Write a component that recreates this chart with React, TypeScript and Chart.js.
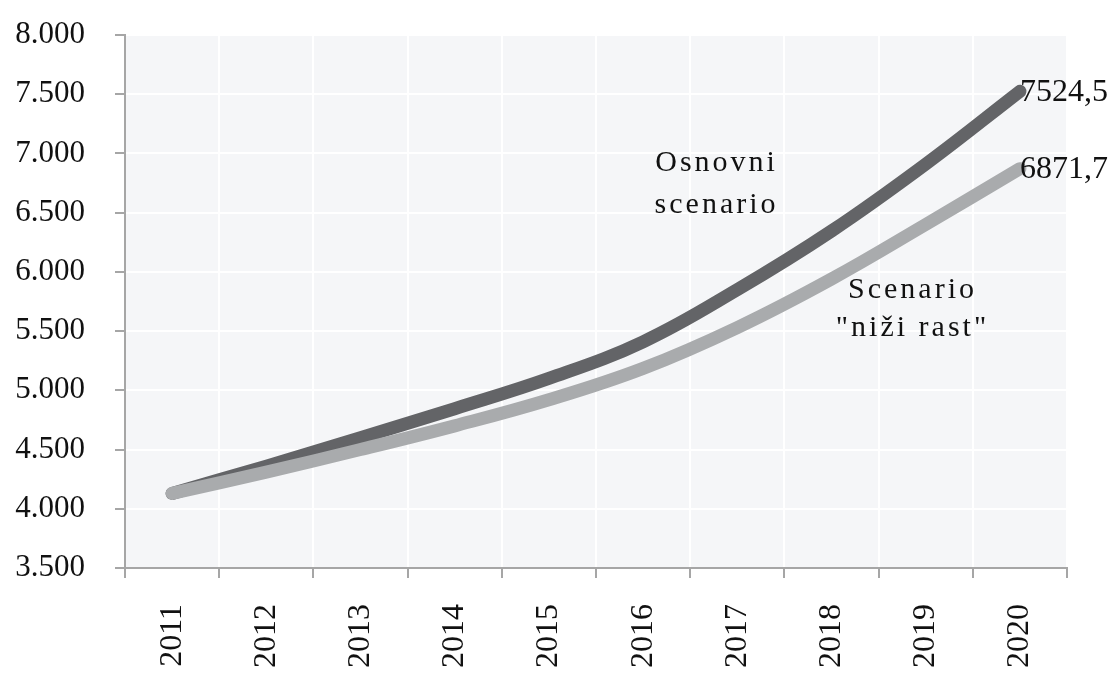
import React, { useEffect, useRef } from "react";
import { Chart, registerables } from "chart.js";

Chart.register(...registerables);

const years = ["2011", "2012", "2013", "2014", "2015", "2016", "2017", "2018", "2019", "2020"];
const osnovni = [4130, 4360, 4600, 4845, 5100, 5410, 5850, 6345, 6910, 7524.5];
const niziRast = [4130, 4310, 4500, 4700, 4920, 5185, 5530, 5940, 6400, 6871.7];
const endLabels = ["7524,5", "6871,7"];
const yMin = 3500;
const yMax = 8000;
const yStep = 500;
// annotation anchors in data coordinates: [categoryIndex, value, text]
const annotations: [number, number, string][] = [
  [5.78, 6920, "Osnovni"],
  [5.78, 6565, "scenario"],
  [7.86, 5850, "Scenario"],
  [7.86, 5525, "\"niži rast\""],
];

const TICK_FONT = "'Liberation Serif', serif";
const TEXT_FONT = "'Liberation Serif', serif";

const fmt = (v: number) => {
  const s = Math.round(v).toString();
  return s.replace(/\B(?=(\d{3})+(?!\d))/g, ".");
};

const plotBg = {
  id: "plotBg",
  beforeDraw(chart: any) {
    const { ctx, chartArea } = chart;
    ctx.save();
    ctx.fillStyle = "#f5f6f8";
    ctx.fillRect(chartArea.left, chartArea.top, chartArea.right - chartArea.left, chartArea.bottom - chartArea.top);
    ctx.restore();
  },
};

const textPlugin = {
  id: "texts",
  afterDatasetsDraw(chart: any) {
    const { ctx, scales } = chart;
    ctx.save();
    ctx.fillStyle = "#111";
    ctx.font = `32px ${TICK_FONT}`;
    ctx.textAlign = "left";
    ctx.textBaseline = "middle";
    [osnovni, niziRast].forEach((arr, i) => {
      const last = arr.length - 1;
      const x = scales.x.getPixelForValue(last);
      const y = scales.y.getPixelForValue(arr[last]);
      ctx.fillText(endLabels[i], x, y + 1);
    });
    ctx.font = `30px ${TEXT_FONT}`;
    (ctx as any).letterSpacing = "3px";
    ctx.textAlign = "center";
    annotations.forEach(([xi, v, t]) => {
      ctx.fillText(t, scales.x.getPixelForValue(xi), scales.y.getPixelForValue(v));
    });
    ctx.restore();
  },
};

export default function App() {
  const ref = useRef<HTMLCanvasElement | null>(null);
  useEffect(() => {
    if (!ref.current) return;
    const chart = new Chart(ref.current, {
      type: "line",
      data: {
        labels: years,
        datasets: [
          {
            label: "Scenario \"niži rast\"",
            data: niziRast,
            borderColor: "#a9abad",
            borderWidth: 13,
            borderCapStyle: "round",
            borderJoinStyle: "round",
            pointRadius: 0,
            tension: 0.4,
            order: 0,
          },
          {
            label: "Osnovni scenario",
            data: osnovni,
            borderColor: "#636467",
            borderWidth: 13,
            borderCapStyle: "round",
            borderJoinStyle: "round",
            pointRadius: 0,
            tension: 0.4,
            order: 1,
          },
        ],
      },
      options: {
        animation: false,
        responsive: false,
        maintainAspectRatio: false,
        layout: { padding: { top: 35, right: 45, left: 0, bottom: 0 } },
        plugins: { legend: { display: false }, tooltip: { enabled: false } },
        scales: {
          x: {
            offset: true,
            grid: { offset: true, color: "#ffffff", lineWidth: 2, tickColor: "#a6a6a6", tickLength: 10, drawOnChartArea: true },
            border: { color: "#a6a6a6", width: 2 },
            ticks: {
              minRotation: 90,
              maxRotation: 90,
              padding: 26,
              color: "#111",
              font: { family: TICK_FONT, size: 32 },
            },
            afterFit(scale: any) {
              scale.height = 105;
              scale.paddingLeft = 0;
              scale.paddingRight = 0;
            },
          },
          y: {
            min: yMin,
            max: yMax,
            ticks: {
              stepSize: yStep,
              padding: 30,
              color: "#111",
              font: { family: TICK_FONT, size: 31 },
              callback: (v: any) => fmt(Number(v)),
            },
            grid: { color: "#ffffff", lineWidth: 2, tickColor: "#a6a6a6", tickLength: 10 },
            border: { color: "#a6a6a6", width: 2 },
            afterFit(scale: any) {
              scale.width = 125;
              scale.paddingTop = 0;
              scale.paddingBottom = 0;
            },
          },
        },
      },
      plugins: [plotBg, textPlugin],
    });
    return () => chart.destroy();
  }, []);
  return (
    <div style={{ position: "fixed", left: 0, top: 0, width: 1112, height: 673, background: "#fff" }}>
      <canvas ref={ref} width={1112} height={673} style={{ width: 1112, height: 673, display: "block" }} />
    </div>
  );
}
